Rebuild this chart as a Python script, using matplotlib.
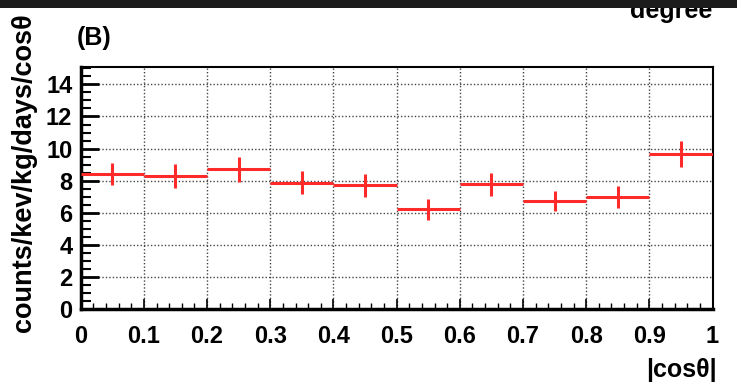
import matplotlib
matplotlib.use("Agg")
import matplotlib.pyplot as plt
from matplotlib.ticker import MultipleLocator
import matplotlib.patches as mpatches

bin_edges = [0.0, 0.1, 0.2, 0.3, 0.4, 0.5, 0.6, 0.7, 0.8, 0.9, 1.0]
counts = [8.42, 8.30, 8.71, 7.88, 7.72, 6.22, 7.78, 6.74, 6.99, 9.65]
errors = [0.67, 0.72, 0.77, 0.72, 0.73, 0.64, 0.73, 0.65, 0.70, 0.82]
x_ticks = [0, 0.1, 0.2, 0.3, 0.4, 0.5, 0.6, 0.7, 0.8, 0.9, 1]
x_ticklabels = ["0", "0.1", "0.2", "0.3", "0.4", "0.5", "0.6", "0.7", "0.8", "0.9", "1"]
y_ticks = [0, 2, 4, 6, 8, 10, 12, 14]

plt.rcParams['font.family'] = ['Liberation Sans', 'DejaVu Sans']

fig = plt.figure(figsize=(7.37, 3.87), dpi=100)
ax = fig.add_axes([0.1095, 0.2008, 0.9668 - 0.1095, 0.8277 - 0.2008])

centers = [(bin_edges[i] + bin_edges[i + 1]) / 2 for i in range(len(counts))]
halfw = [(bin_edges[i + 1] - bin_edges[i]) / 2 for i in range(len(counts))]
ax.errorbar(centers, counts, xerr=halfw, yerr=errors, fmt='none',
            ecolor='#ff2a2a', elinewidth=2.2, capsize=0, zorder=3)

ax.set_xlim(0, 1)
ax.set_ylim(0, 15.1)
ax.set_xticks(x_ticks)
ax.set_xticklabels(x_ticklabels)
ax.set_yticks(y_ticks)
ax.xaxis.set_minor_locator(MultipleLocator(0.02))
ax.yaxis.set_minor_locator(MultipleLocator(0.5))

ax.grid(True, which='major', linestyle=(0, (1, 1.5)), color='#444444', linewidth=1.0)
ax.tick_params(axis='x', which='major', direction='in', length=7, width=1.2, top=False,
               labelsize=17, pad=11)
ax.tick_params(axis='x', which='minor', direction='in', length=4, width=1.0, top=False)
ax.tick_params(axis='y', which='major', direction='in', length=13, width=2.0, right=False,
               labelsize=17, pad=6)
ax.tick_params(axis='y', which='minor', direction='in', length=7, width=1.5, right=False)
for lbl in ax.get_xticklabels() + ax.get_yticklabels():
    lbl.set_fontweight('bold')

ax.spines['left'].set_linewidth(2.5)
ax.spines['bottom'].set_linewidth(2.5)
ax.spines['top'].set_linewidth(1.5)
ax.spines['right'].set_linewidth(1.5)

fig.text(0.033, 0.553, "counts/kev/kg/days/cos\u03b8", rotation=90, ha='center', va='center',
         fontsize=19.5, fontweight='bold')
fig.text(0.9729, 0.026, "|cos\u03b8|", ha='right', va='baseline', fontsize=18, fontweight='bold')
fig.text(0.104, 0.902, "(B)", ha='left', va='center', fontsize=18, fontweight='bold')
fig.text(0.966, 0.953, "degree", ha='right', va='baseline', fontsize=18, fontweight='bold')

fig.patches.append(mpatches.Rectangle((0, 1 - 7.5 / 387), 1, 7.5 / 387, transform=fig.transFigure,
                                      facecolor='#1c1c1c', edgecolor='none', zorder=10))

fig.savefig("out.png", dpi=100)
